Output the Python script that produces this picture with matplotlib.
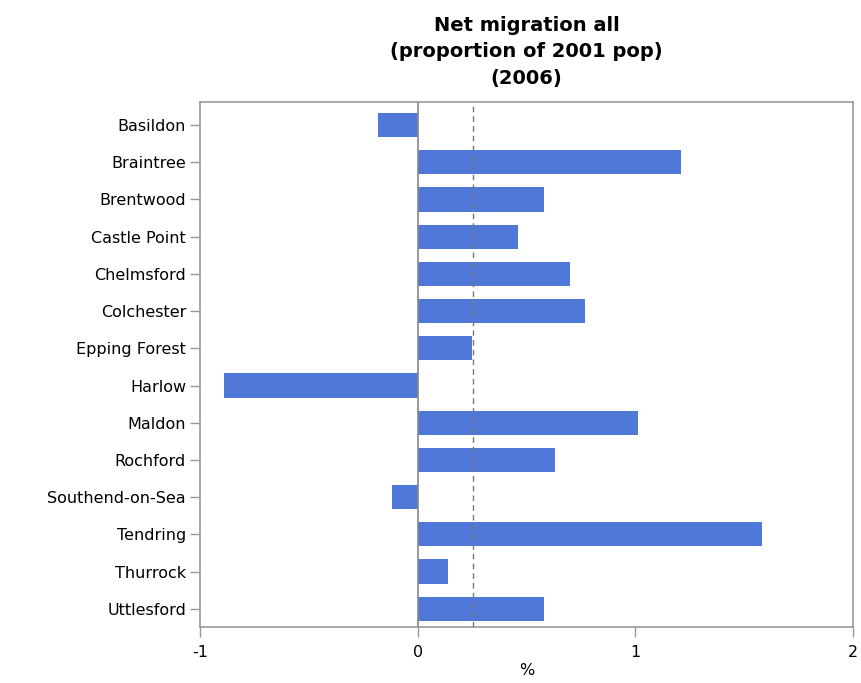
import matplotlib
matplotlib.use("Agg")
import matplotlib.pyplot as plt

plt.rcParams["font.family"] = ["DejaVu Sans"]

categories = ["Basildon", "Braintree", "Brentwood", "Castle Point", "Chelmsford",
              "Colchester", "Epping Forest", "Harlow", "Maldon", "Rochford",
              "Southend-on-Sea", "Tendring", "Thurrock", "Uttlesford"]
values = [-0.18, 1.21, 0.58, 0.46, 0.70, 0.77, 0.25, -0.89, 1.01, 0.63,
          -0.12, 1.58, 0.14, 0.58]
reference_value = 0.255
xticks = [-1, 0, 1, 2]

fig = plt.figure(figsize=(8.61, 6.83), dpi=100)
ax = fig.add_axes([200/861, 1 - 627/683, 653/861, 525/683])

pos = list(range(len(categories)))
ax.barh(pos, values, height=0.65, color="#4F78D8", zorder=2)
ax.axvline(0, color="#888888", lw=1.2, zorder=3)
ax.axvline(reference_value, color="#777777", lw=1, ls=(0, (4, 3)), zorder=3)

ax.set_xlim(-1, 2)
ax.set_ylim(13.49, -0.62)
ax.set_yticks(pos)
ax.set_yticklabels(categories, fontsize=11.5)
ax.set_xticks(xticks)
ax.set_xticklabels([str(t) for t in xticks], fontsize=11.5)
ax.set_xlabel("%", fontsize=11.5, labelpad=2)
for s in ax.spines.values():
    s.set_color("#999999")
    s.set_linewidth(1.2)
ax.tick_params(axis="both", direction="out", color="#999999", width=1, length=7)
ax.tick_params(axis="x", pad=6)
ax.tick_params(axis="y", pad=3)
ax.set_title("Net migration all\n(proportion of 2001 pop)\n(2006)", fontsize=14,
             fontweight="bold", pad=13, linespacing=1.5)
fig.savefig("out.png", dpi=100)
